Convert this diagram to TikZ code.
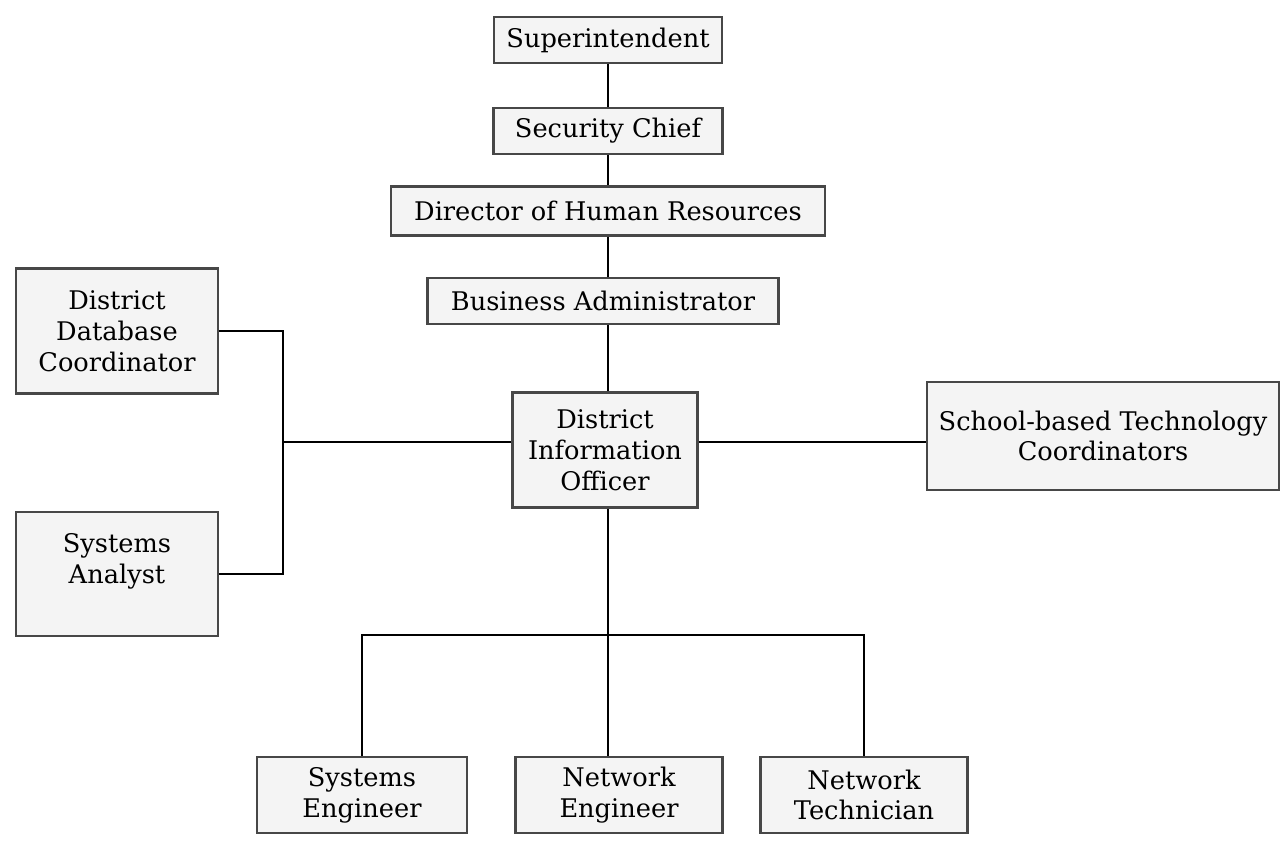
\documentclass[tikz,border=0pt]{standalone}
\usepackage{fontspec}
\setmainfont{DejaVu Serif}
\begin{document}
\begin{tikzpicture}[x=0.02cm, y=-0.02cm]
\tikzstyle{every node}=[draw=black!72, line width=1.6pt, fill=gray!9, inner sep=0pt, align=center, font=\fontsize{14.6}{17.5}\selectfont];
\tikzstyle{link}=[line width=1.1pt, black];
\useasboundingbox (0,0) rectangle (1283,846);
% chain of command
\node [minimum width=4.56cm, minimum height=0.92cm] (sup) at (608,40) {Superintendent};
\node [minimum width=4.58cm, minimum height=0.92cm] (sec) at (608,131) {Security Chief};
\node [minimum width=8.68cm, minimum height=0.98cm] (dhr) at (608,211) {Director of Human Resources};
\node [minimum width=7.02cm, minimum height=0.92cm] (ba) at (603,301) {Business Administrator};
\node [minimum width=3.70cm, minimum height=2.30cm] (dio) at (605,450) {District\\Information\\Officer};
% side boxes
\node [minimum width=4.04cm, minimum height=2.50cm] (ddc) at (117,331) {District\\Database\\Coordinator};
\node [minimum width=4.04cm, minimum height=2.48cm] (sa) at (117,574) {Systems\\Analyst\\~};
\node [minimum width=7.04cm, minimum height=2.16cm] (sbt) at (1103,436) {School-based Technology\\Coordinators};
% staff
\node [minimum width=4.20cm, minimum height=1.52cm] (se) at (362,795) {Systems\\Engineer};
\node [minimum width=4.14cm, minimum height=1.52cm] (ne) at (619,795) {Network\\Engineer};
\node [minimum width=4.14cm, minimum height=1.52cm] (nt) at (864,795) {Network\\Technician};
\coordinate (jl) at (283,442);
\coordinate (bus) at (608,635);
\draw [link] (sup.south) -- (sec.north)
(sec.south) -- (dhr.north)
(dhr.south) -- (dhr.south |- ba.north)
(dhr.south |- ba.south) -- (dhr.south |- dio.north); % trunk
\draw [link] (ddc.east) -| (jl) |- (sa.east)
(jl) -- (jl -| dio.west)
(jl -| dio.east) -- (jl -| sbt.west);
\draw [link] (bus |- dio.south) -- (bus)
(se.north) |- (bus) -| (nt.north)
(bus) -- (bus |- ne.north);
\end{tikzpicture}
\end{document}
